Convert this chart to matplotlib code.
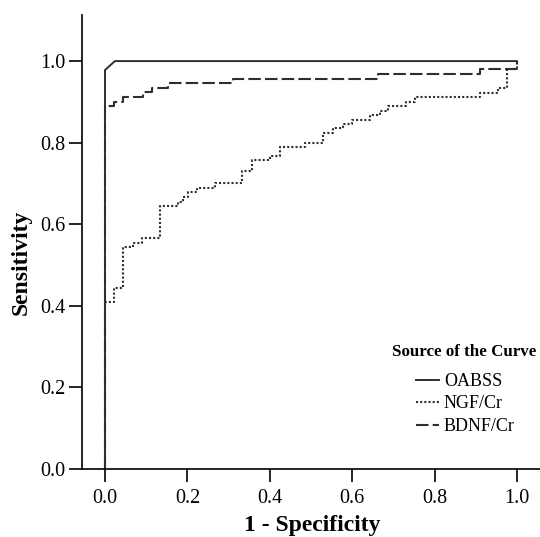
import matplotlib
matplotlib.use("Agg")
import matplotlib.pyplot as plt

# ROC curve vertices (1 - specificity, sensitivity)
oabss_fpr = [0.0, 0.0, 0.024, 1.0]
oabss_tpr = [0.0, 0.978, 1.0, 1.0]

ngf_fpr = [0.0, 0.0, 0.023, 0.023, 0.044, 0.044, 0.067, 0.067, 0.089, 0.089,
           0.133, 0.133, 0.178, 0.178, 0.19, 0.19, 0.202, 0.202, 0.223, 0.223,
           0.267, 0.267, 0.332, 0.332, 0.356, 0.356, 0.40, 0.40, 0.425, 0.425,
           0.485, 0.485, 0.529, 0.529, 0.553, 0.553, 0.578, 0.578, 0.60, 0.60,
           0.643, 0.643, 0.667, 0.667, 0.687, 0.687, 0.731, 0.731, 0.752, 0.752,
           0.91, 0.91, 0.954, 0.954, 0.977, 0.977, 1.0, 1.0]
ngf_tpr = [0.0, 0.41, 0.41, 0.444, 0.444, 0.545, 0.545, 0.555, 0.555, 0.567,
           0.567, 0.645, 0.645, 0.655, 0.655, 0.668, 0.668, 0.678, 0.678, 0.69,
           0.69, 0.70, 0.70, 0.731, 0.731, 0.757, 0.757, 0.767, 0.767, 0.789,
           0.789, 0.80, 0.80, 0.823, 0.823, 0.835, 0.835, 0.845, 0.845, 0.855,
           0.855, 0.868, 0.868, 0.878, 0.878, 0.89, 0.89, 0.90, 0.90, 0.911,
           0.911, 0.922, 0.922, 0.933, 0.933, 0.98, 0.98, 1.0]

bdnf_fpr = [0.0, 0.0, 0.022, 0.022, 0.044, 0.044, 0.092, 0.092, 0.114, 0.114,
            0.153, 0.153, 0.311, 0.311, 0.663, 0.663, 0.91, 0.91, 1.0, 1.0]
bdnf_tpr = [0.0, 0.89, 0.89, 0.90, 0.90, 0.912, 0.912, 0.924, 0.924, 0.934,
            0.934, 0.946, 0.946, 0.956, 0.956, 0.968, 0.968, 0.98, 0.98, 1.0]

series_labels = ["OABSS", "NGF/Cr", "BDNF/Cr"]
legend_title = "Source of the Curve"
x_label = "1 - Specificity"
y_label = "Sensitivity"
ticks = [0.0, 0.2, 0.4, 0.6, 0.8, 1.0]
tick_labels = ["0.0", "0.2", "0.4", "0.6", "0.8", "1.0"]

plt.rcParams["font.family"] = ["Liberation Serif", "DejaVu Serif"]

W, H = 540, 537
fig = plt.figure(figsize=(W / 100, H / 100), dpi=100)
ax = fig.add_axes([82 / W, 1 - 469 / H, (W - 82) / W, (469 - 15) / H])

lc = "#2e2e2e"
ax.plot(oabss_fpr, oabss_tpr, color=lc, lw=1.4, ls="-", label=series_labels[0],
        clip_on=False)
ax.plot(ngf_fpr, ngf_tpr, color=lc, lw=1.5, ls=(0, (1, 1)), label=series_labels[1],
        clip_on=False)
ax.plot(bdnf_fpr, bdnf_tpr, color=lc, lw=1.5, ls=(0, (6, 2)), label=series_labels[2],
        clip_on=False)

ax.set_xlim(-0.0558, 1.056)
ax.set_ylim(0, 1.113)
ax.set_xticks(ticks)
ax.set_xticklabels(tick_labels)
ax.set_yticks(ticks)
ax.set_yticklabels(tick_labels)
ax.tick_params(direction="out", length=9.3, width=1.2, labelsize=14.5,
               color="black")
ax.tick_params(axis="x", pad=5)
ax.tick_params(axis="y", pad=2.5)
for s in ["top", "right"]:
    ax.spines[s].set_visible(False)
for s in ["left", "bottom"]:
    ax.spines[s].set_linewidth(1.2)

fig.text(312 / W, 1 - 526 / H, x_label, ha="center", va="center",
         fontsize=17, fontweight="bold")
fig.text(21 / W, 1 - 262 / H, y_label, ha="center", va="center",
         rotation=90, fontsize=17, fontweight="bold")

fig.text(464.5 / W, 1 - 352 / H, legend_title, ha="center", va="center",
         fontsize=12.2, fontweight="bold")
leg = ax.legend(loc="upper left", bbox_to_anchor=(416 / W, 1 - 373 / H),
                bbox_transform=fig.transFigure, frameon=False, fontsize=13,
                handlelength=1.25, handletextpad=0.3, labelspacing=0.3,
                borderpad=0, borderaxespad=0)

fig.savefig("out.png", dpi=100)
